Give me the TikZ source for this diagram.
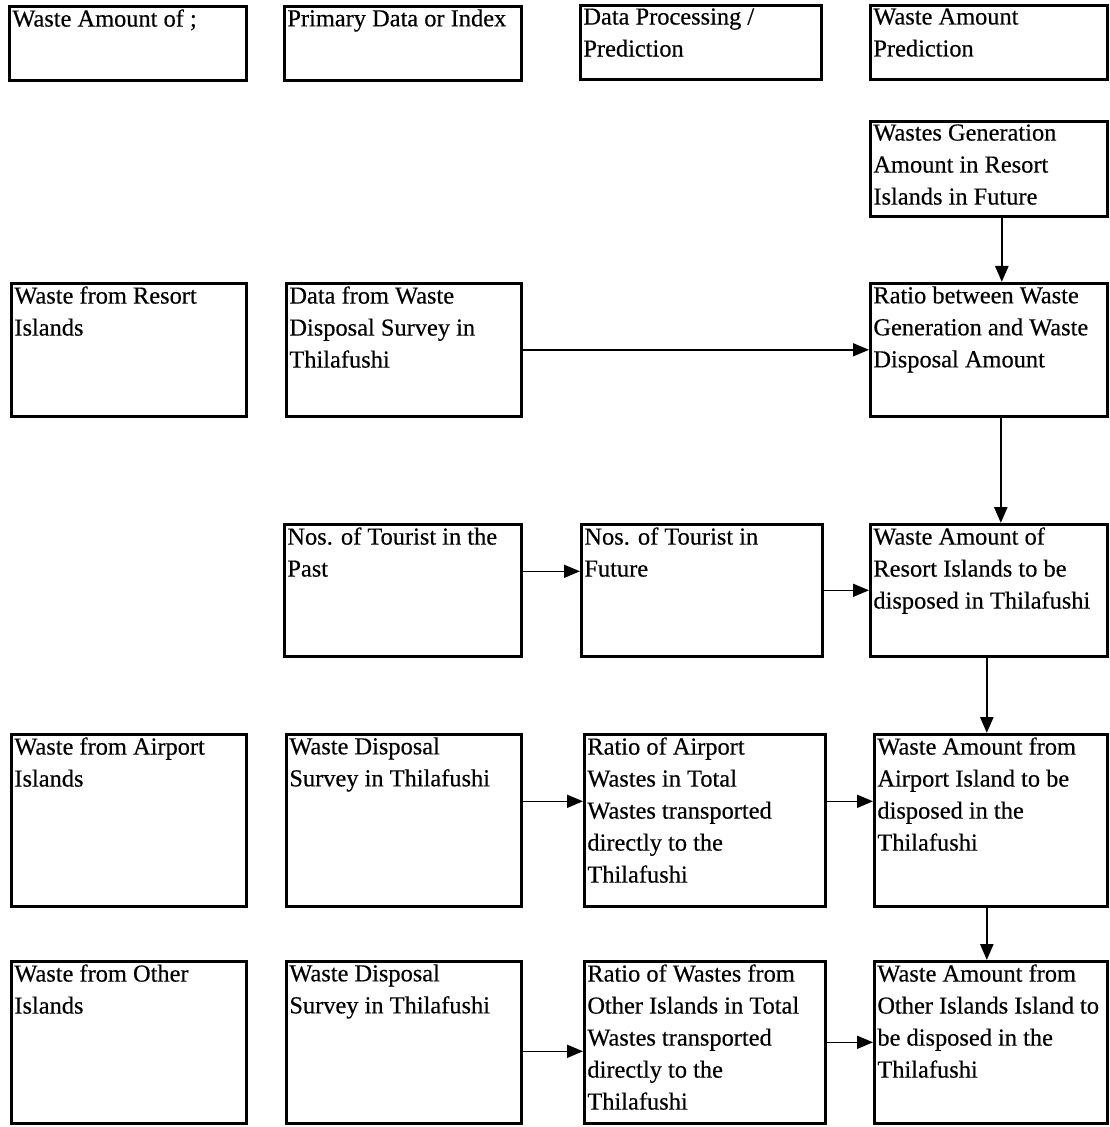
\documentclass[tikz,border=0pt]{standalone}
\usepackage{fontspec}
\setmainfont{Liberation Serif}[FakeBold=0.4]
\usetikzlibrary{arrows.meta}
\tikzset{
  x=0.5pt, y=-0.5pt,
  >={Triangle[length=8pt,width=6.5pt]},
  wbox/.style={
    draw,
    line width=1.3pt,
    anchor=north west,
    inner sep=0pt
  },
  txt/.style={
    anchor=north west,
    align=left,
    inner sep=2pt,
    font=\fontsize{12.2}{16}\selectfont
  },
  wide/.style={minimum width=118.5pt},
  mid/.style={minimum width=120.5pt},
  hdr/.style={minimum height=37pt},
  thin arrow/.style={->, line width=0.8pt},
  thick arrow/.style={->, line width=1.3pt}
}
\begin{document}
\begin{tikzpicture}
\useasboundingbox (0,0) rectangle (1109,1127);
% headers
\node[wbox,wide,hdr,label={[txt]north west:{Waste Amount of ;}}] (hAmt) at (8,5) {};
\node[wbox,wide,hdr,label={[txt]north west:{Primary Data or Index}}] (hData) at (283,5) {};
\node[wbox,mid,hdr,label={[txt]north west:{Data Processing /\\Prediction}}] (hProc) at (579,4) {};
\node[wbox,wide,hdr,label={[txt]north west:{Waste Amount\\Prediction}}] (hPred) at (869,4) {};
% resort islands
\node[wbox,wide,minimum height=47.5pt,label={[txt]north west:{Wastes Generation\\Amount in Resort\\Islands in Future}}] (gen) at (869,120) {};
\node[wbox,minimum width=117.5pt,minimum height=66.5pt,label={[txt]north west:{Waste from Resort\\Islands}}] (resort) at (10,282) {};
\node[wbox,minimum width=117.5pt,minimum height=66.5pt,label={[txt]north west:{Data from Waste\\Disposal Survey in\\Thilafushi}}] (survR) at (285,282) {};
\node[wbox,wide,minimum height=66.5pt,label={[txt]north west:{Ratio between Waste\\Generation and Waste\\Disposal Amount}}] (ratioGen) at (869,282) {};
\node[wbox,wide,minimum height=66pt,label={[txt]north west:{Nos. of Tourist in the\\Past}}] (past) at (283,523) {};
\node[wbox,mid,minimum height=66pt,label={[txt]north west:{Nos. of Tourist in\\Future}}] (future) at (580,523) {};
\node[wbox,wide,minimum height=66pt,label={[txt]north west:{Waste Amount of\\Resort Islands to be\\disposed in Thilafushi}}] (resAmt) at (869,523) {};
% airport islands
\node[wbox,minimum width=117.5pt,minimum height=86pt,label={[txt]north west:{Waste from Airport\\Islands}}] (airport) at (10,733) {};
\node[wbox,minimum width=117.5pt,minimum height=86pt,label={[txt]north west:{Waste Disposal\\Survey in Thilafushi}}] (survA) at (285,733) {};
\node[wbox,mid,minimum height=86pt,label={[txt]north west:{Ratio of Airport\\Wastes in Total\\Wastes transported\\directly to the\\Thilafushi}}] (ratioAir) at (583,733) {};
\node[wbox,minimum width=116.5pt,minimum height=86pt,label={[txt]north west:{Waste Amount from\\Airport Island to be\\disposed in the\\Thilafushi}}] (airAmt) at (873,733) {};
% other islands
\node[wbox,minimum width=117.5pt,minimum height=81pt,label={[txt]north west:{Waste from Other\\Islands}}] (other) at (10,960) {};
\node[wbox,minimum width=117.5pt,minimum height=81pt,label={[txt]north west:{Waste Disposal\\Survey in Thilafushi}}] (survO) at (285,960) {};
\node[wbox,mid,minimum height=81pt,label={[txt]north west:{Ratio of Wastes from\\Other Islands in Total\\Wastes transported\\directly to the\\Thilafushi}}] (ratioOth) at (583,960) {};
\node[wbox,minimum width=116.5pt,minimum height=81pt,label={[txt]north west:{Waste Amount from\\Other Islands Island to\\be disposed in the\\Thilafushi}}] (othAmt) at (873,960) {};
% connectors
\draw[thick arrow] ([xshift=6.5pt]gen.south) -- ([xshift=6.5pt]ratioGen.north);
\draw[thin arrow] (survR.east) -- (survR.east -| ratioGen.west);
\draw[thick arrow] ([xshift=6pt]ratioGen.south) -- ([xshift=6pt]resAmt.north);
\draw[thin arrow] ([yshift=9.5pt]past.east) -- ([yshift=9.5pt]future.west);
\draw[thin arrow] (future.east) -- (resAmt.west);
\draw[thick arrow] ([xshift=-1pt]resAmt.south) -- ([xshift=-1pt]resAmt.south |- airAmt.north);
\draw[thin arrow] ([yshift=9.5pt]survA.east) -- ([yshift=9.5pt]ratioAir.west);
\draw[thin arrow] ([yshift=9.5pt]ratioAir.east) -- ([yshift=9.5pt]airAmt.west);
\draw[thick arrow] ([xshift=-1pt]airAmt.south -| resAmt.south) -- ([xshift=-1pt]resAmt.south |- othAmt.north);
\draw[thin arrow] ([yshift=-4.5pt]survO.east) -- ([yshift=-4.5pt]ratioOth.west);
\draw[thin arrow] (ratioOth.east) -- (othAmt.west);
\end{tikzpicture}
\end{document}
